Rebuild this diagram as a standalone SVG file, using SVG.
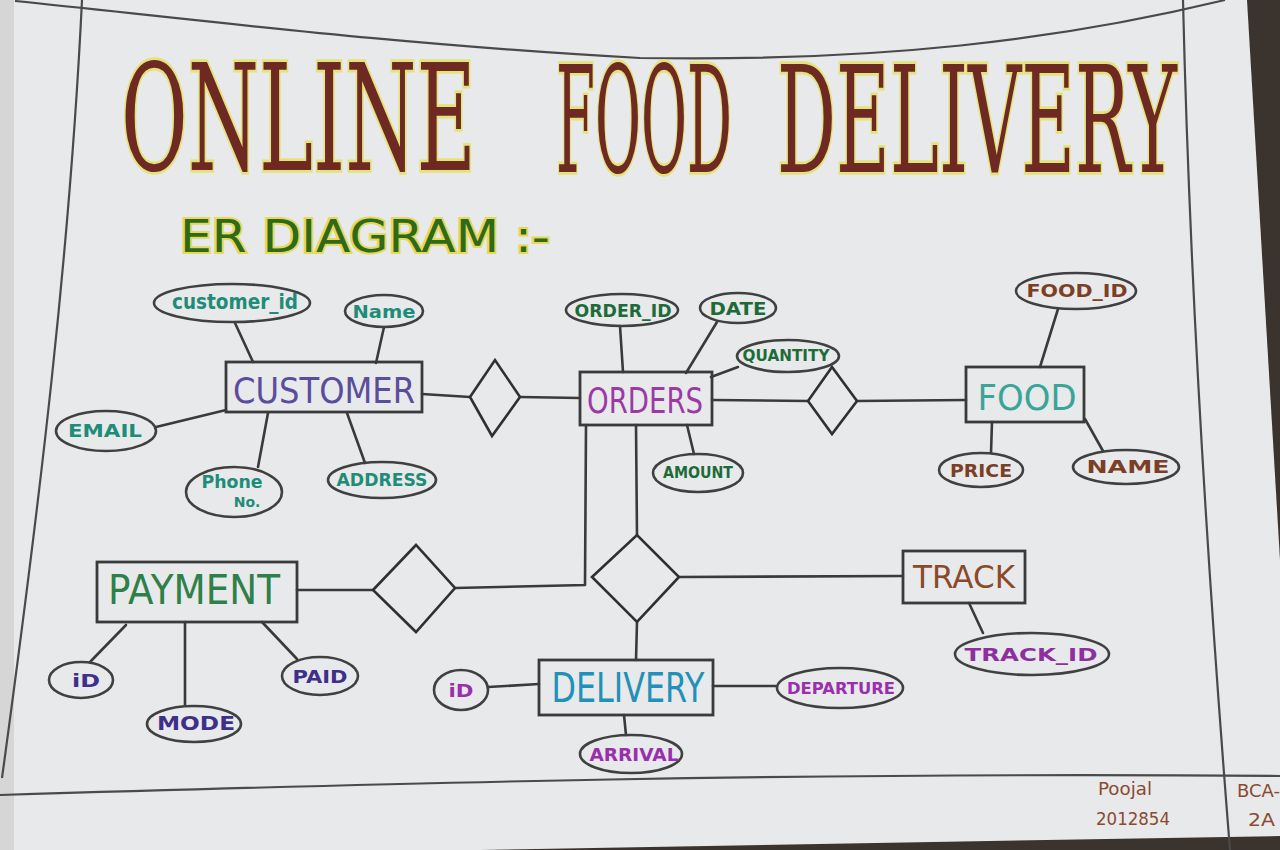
<svg xmlns="http://www.w3.org/2000/svg" width="1280" height="850" viewBox="0 0 1280 850">
<style>
.ln{stroke:#3a3a3a;stroke-width:2.6;fill:none;stroke-linecap:round;stroke-linejoin:round}
.ent{fill:none;stroke:#3a3a3a;stroke-width:2.8}
.att{fill:none;stroke:#404040;stroke-width:2.6}
.rel{fill:none;stroke:#303030;stroke-width:2.6;stroke-linejoin:miter}
.frame{stroke:#4a4a4a;stroke-width:2.2;fill:none}
text{font-family:"DejaVu Sans","Liberation Sans",sans-serif;text-anchor:middle;dominant-baseline:central}
.et{font-size:36px}
.at{font-size:18px;font-weight:bold}
.title{font-family:"DejaVu Serif","Liberation Serif",serif;font-size:80px;fill:#6e2a22;stroke:#e4e27a;stroke-width:3;paint-order:stroke;text-anchor:start;dominant-baseline:auto}
.sub{font-size:44px;fill:#2f6a18;stroke:#e6d85a;stroke-width:4;paint-order:stroke;text-anchor:start;dominant-baseline:auto}
.sig{font-family:"DejaVu Sans","Liberation Sans",sans-serif;font-size:17px;fill:#8a4a30;text-anchor:start;dominant-baseline:auto}
.c1{fill:#5b4d9e}.a1{fill:#1e8c78}
.c2{fill:#9b3aa5}.a2{fill:#1d6b38}
.c3{fill:#3aa597}.a3{fill:#7b3f25}
.c4{fill:#2e8048}.a4{fill:#3f2f8a}
.c5{fill:#2290b8}.a5{fill:#9a2fae}
.c6{fill:#8a4a2a}.a6{fill:#8e2fa0}
</style>
<rect x="0" y="0" width="1280" height="850" fill="#e8e9eb"/>
<rect x="0" y="0" width="14" height="850" fill="#d6d6d6"/>
<polygon points="1247,0 1280,0 1280,560" fill="#3b342e"/>
<polygon points="480,850 1280,836 1280,850" fill="#3b342e"/>
<g id="frame">
<path class="frame" d="M15,1 C200,20 400,45 640,58 C880,62 1060,40 1225,0"/>
<path class="frame" d="M82,0 C70,250 40,500 2,778"/>
<path class="frame" d="M1183,0 C1190,300 1210,600 1230,850"/>
<path class="frame" d="M0,795 C400,783 800,772 1280,776"/>
</g>
<g id="title">
<text class="title" transform="translate(121,170) scale(1,1.85)" x="0" y="0" textLength="355" lengthAdjust="spacingAndGlyphs">ONLINE</text>
<text class="title" transform="translate(556,172) scale(1,2.69)" x="0" y="0" textLength="176" lengthAdjust="spacingAndGlyphs" style="font-size:55px;stroke-width:2">FOOD</text>
<text class="title" transform="translate(777,172) scale(1,2.11)" x="0" y="0" textLength="400" lengthAdjust="spacingAndGlyphs" style="font-size:70px;stroke-width:2.6">DELIVERY</text>
<text class="sub" x="180" y="252" textLength="370" lengthAdjust="spacingAndGlyphs">ER DIAGRAM :-</text>
</g>
<g id="connectors">
<line class="ln" x1="235" y1="323" x2="253" y2="362"/>
<line class="ln" x1="384" y1="327" x2="376" y2="363"/>
<line class="ln" x1="156" y1="427" x2="226" y2="410"/>
<line class="ln" x1="268" y1="413" x2="258" y2="467"/>
<line class="ln" x1="347" y1="413" x2="365" y2="463"/>
<line class="ln" x1="422" y1="394" x2="470" y2="397"/>
<line class="ln" x1="520" y1="397" x2="580" y2="398"/>
<line class="ln" x1="620" y1="326" x2="623" y2="372"/>
<line class="ln" x1="717" y1="322" x2="686" y2="373"/>
<line class="ln" x1="738" y1="367" x2="711" y2="377"/>
<line class="ln" x1="687" y1="425" x2="694" y2="454"/>
<line class="ln" x1="712" y1="400" x2="808" y2="401"/>
<line class="ln" x1="857" y1="401" x2="966" y2="400"/>
<line class="ln" x1="1058" y1="309" x2="1040" y2="367"/>
<line class="ln" x1="992" y1="422" x2="991" y2="453"/>
<line class="ln" x1="1085" y1="419" x2="1103" y2="451"/>
<polyline class="ln" points="586,425 585,585 455,588"/>
<line class="ln" x1="636" y1="425" x2="637" y2="535"/>
<line class="ln" x1="297" y1="590" x2="373" y2="590"/>
<line class="ln" x1="126" y1="625" x2="90" y2="662"/>
<line class="ln" x1="185" y1="622" x2="185" y2="705"/>
<line class="ln" x1="262" y1="622" x2="297" y2="659"/>
<line class="ln" x1="679" y1="577" x2="903" y2="576"/>
<line class="ln" x1="969" y1="603" x2="983" y2="633"/>
<line class="ln" x1="637" y1="622" x2="636" y2="660"/>
<line class="ln" x1="488" y1="687" x2="539" y2="684"/>
<line class="ln" x1="713" y1="686" x2="776" y2="686"/>
<line class="ln" x1="624" y1="715" x2="626" y2="735"/>
</g>
<g id="rel-customer-orders"><polygon class="rel" points="470,397 495,360 520,397 492,436"/></g>
<g id="rel-orders-food"><polygon class="rel" points="808,401 832,367 857,401 832,434"/></g>
<g id="rel-payment-orders"><polygon class="rel" points="373,590 416,545 455,588 416,632"/></g>
<g id="rel-orders-delivery-track"><polygon class="rel" points="592,577 637,535 679,577 637,622"/></g>
<g id="customer">
<rect class="ent" x="226" y="362" width="196" height="50"/>
<text class="et c1" x="324" y="390" textLength="182" lengthAdjust="spacingAndGlyphs">CUSTOMER</text>
</g>
<g id="customer_id"><ellipse class="att" cx="232" cy="303" rx="78" ry="19"/><text class="at a1" x="235" y="302" textLength="126" lengthAdjust="spacingAndGlyphs" style="font-size:21px">customer_id</text></g>
<g id="customer-name"><ellipse class="att" cx="384" cy="311" rx="39" ry="16"/><text class="at a1" x="384" y="311" textLength="63" lengthAdjust="spacingAndGlyphs">Name</text></g>
<g id="email"><ellipse class="att" cx="106" cy="431" rx="50" ry="20"/><text class="at a1" x="105" y="430" textLength="74" lengthAdjust="spacingAndGlyphs">EMAIL</text></g>
<g id="phone"><ellipse class="att" cx="234" cy="492" rx="48" ry="25"/><text class="at a1" x="232" y="482" textLength="61" lengthAdjust="spacingAndGlyphs" style="font-size:17px">Phone</text><text class="at a1" x="247" y="502" style="font-size:14px">No.</text></g>
<g id="address"><ellipse class="att" cx="382" cy="480" rx="54" ry="18"/><text class="at a1" x="382" y="480" textLength="91" lengthAdjust="spacingAndGlyphs" style="font-size:17px">ADDRESS</text></g>
<g id="orders">
<rect class="ent" x="580" y="372" width="132" height="53"/>
<text class="et c2" x="645" y="400" textLength="116" lengthAdjust="spacingAndGlyphs">ORDERS</text>
</g>
<g id="order_id"><ellipse class="att" cx="622" cy="310" rx="56" ry="16"/><text class="at a2" x="623" y="310" textLength="97" lengthAdjust="spacingAndGlyphs">ORDER_ID</text></g>
<g id="date"><ellipse class="att" cx="738" cy="308" rx="38" ry="15"/><text class="at a2" x="738" y="308" textLength="57" lengthAdjust="spacingAndGlyphs">DATE</text></g>
<g id="quantity"><ellipse class="att" cx="788" cy="356" rx="51" ry="16"/><text class="at a2" x="786" y="356" textLength="87" lengthAdjust="spacingAndGlyphs" style="font-size:15px">QUANTITY</text></g>
<g id="amount"><ellipse class="att" cx="698" cy="473" rx="45" ry="19"/><text class="at a2" x="698" y="472" textLength="70" lengthAdjust="spacingAndGlyphs" style="font-size:16px">AMOUNT</text></g>
<g id="food">
<rect class="ent" x="966" y="367" width="118" height="55"/>
<text class="et c3" x="1027" y="397" textLength="99" lengthAdjust="spacingAndGlyphs" style="font-weight:normal">FOOD</text>
</g>
<g id="food_id"><ellipse class="att" cx="1076" cy="291" rx="60" ry="18"/><text class="at a3" x="1077" y="290" textLength="101" lengthAdjust="spacingAndGlyphs">FOOD_ID</text></g>
<g id="price"><ellipse class="att" cx="981" cy="470" rx="42" ry="17"/><text class="at a3" x="981" y="470" textLength="62" lengthAdjust="spacingAndGlyphs">PRICE</text></g>
<g id="food-name"><ellipse class="att" cx="1126" cy="467" rx="53" ry="17"/><text class="at a3" x="1128" y="466" textLength="83" lengthAdjust="spacingAndGlyphs">NAME</text></g>
<g id="payment">
<rect class="ent" x="97" y="562" width="200" height="60"/>
<text class="et c4" x="194" y="590" textLength="172" lengthAdjust="spacingAndGlyphs" style="font-size:40px">PAYMENT</text>
</g>
<g id="payment-id"><ellipse class="att" cx="81" cy="680" rx="32" ry="18"/><text class="at a4" x="86" y="680" textLength="28" lengthAdjust="spacingAndGlyphs">iD</text></g>
<g id="mode"><ellipse class="att" cx="194" cy="724" rx="47" ry="18"/><text class="at a4" x="196" y="723" textLength="78" lengthAdjust="spacingAndGlyphs" style="font-size:20px">MODE</text></g>
<g id="paid"><ellipse class="att" cx="320" cy="676" rx="38" ry="19"/><text class="at a4" x="320" y="676" textLength="55" lengthAdjust="spacingAndGlyphs">PAID</text></g>
<g id="delivery">
<rect class="ent" x="539" y="660" width="174" height="55"/>
<text class="et c5" x="628" y="688" textLength="153" lengthAdjust="spacingAndGlyphs" style="font-size:40px">DELIVERY</text>
</g>
<g id="delivery-id"><ellipse class="att" cx="461" cy="690" rx="27" ry="20"/><text class="at a5" x="461" y="690" textLength="25" lengthAdjust="spacingAndGlyphs">iD</text></g>
<g id="departure"><ellipse class="att" cx="840" cy="688" rx="63" ry="20"/><text class="at a5" x="841" y="688" textLength="108" lengthAdjust="spacingAndGlyphs" style="font-size:16px">DEPARTURE</text></g>
<g id="arrival"><ellipse class="att" cx="631" cy="754" rx="51" ry="19"/><text class="at a5" x="634" y="754" textLength="89" lengthAdjust="spacingAndGlyphs">ARRIVAL</text></g>
<g id="track">
<rect class="ent" x="903" y="551" width="122" height="52"/>
<text class="et c6" x="964" y="577" textLength="102" lengthAdjust="spacingAndGlyphs" style="font-size:32px">TRACK</text>
</g>
<g id="track_id"><ellipse class="att" cx="1032" cy="654" rx="77" ry="21"/><text class="at a6" x="1031" y="654" textLength="133" lengthAdjust="spacingAndGlyphs">TRACK_ID</text></g>
<g id="signature">
<text class="sig" x="1098" y="795" textLength="54" lengthAdjust="spacingAndGlyphs">Poojal</text>
<text class="sig" x="1096" y="825" textLength="74" lengthAdjust="spacingAndGlyphs">2012854</text>
<text class="sig" x="1237" y="797" textLength="43" lengthAdjust="spacingAndGlyphs">BCA-</text>
<text class="sig" x="1248" y="826" textLength="27" lengthAdjust="spacingAndGlyphs">2A</text>
</g>
</svg>
